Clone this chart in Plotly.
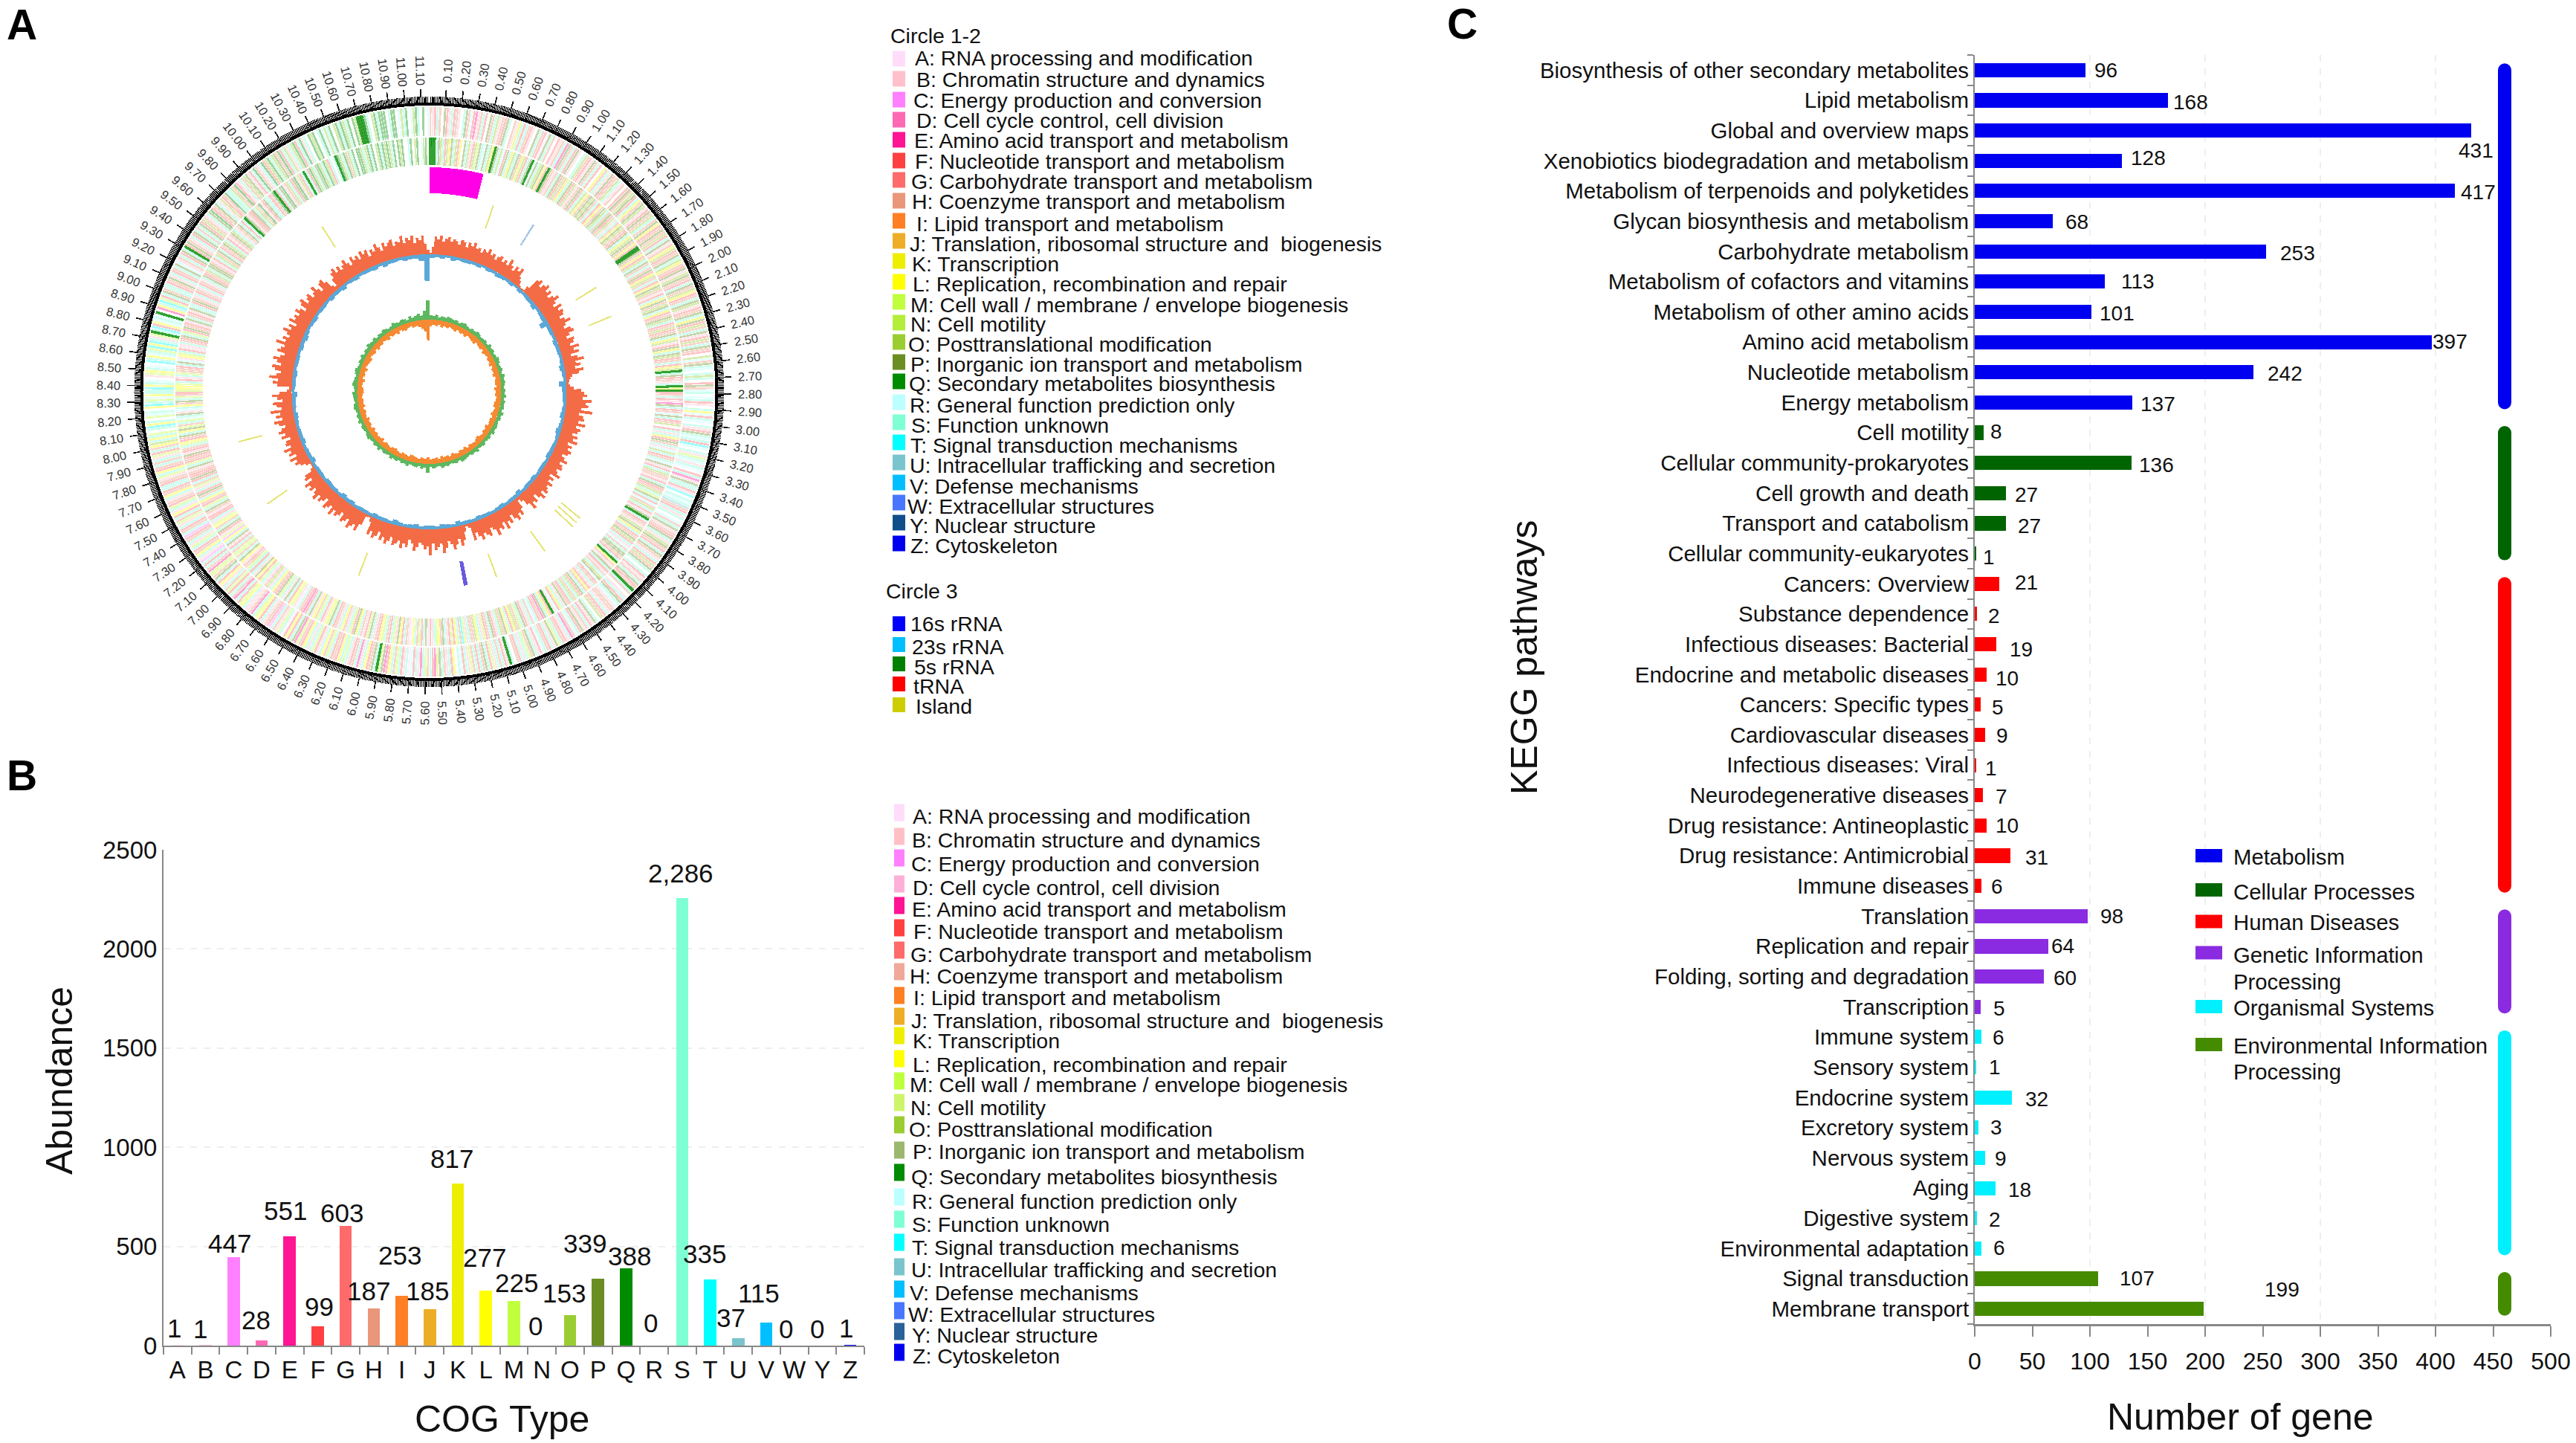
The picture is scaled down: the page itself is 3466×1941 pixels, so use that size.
import numpy as np
import plotly.graph_objects as go

W, H = 3466, 1941
FONT = "Liberation Sans"

# ---------- shared COG data ----------
COG_LETTERS = list("ABCDEFGHIJKLMNOPQRSTUVWYZ")
COG_NAMES = ["RNA processing and modification", "Chromatin structure and dynamics",
             "Energy production and conversion", "Cell cycle control, cell division",
             "Amino acid transport and metabolism", "Nucleotide transport and metabolism",
             "Carbohydrate transport and metabolism", "Coenzyme transport and metabolism",
             "Lipid transport and metabolism", "Translation, ribosomal structure and  biogenesis",
             "Transcription", "Replication, recombination and repair",
             "Cell wall / membrane / envelope biogenesis", "Cell motility",
             "Posttranslational modification", "Inorganic ion transport and metabolism",
             "Secondary metabolites biosynthesis", "General function prediction only",
             "Function unknown", "Signal transduction mechanisms",
             "Intracellular trafficking and secretion", "Defense mechanisms",
             "Extracellular structures", "Nuclear structure", "Cytoskeleton"]
COG_COLORS = ["#FFDDFA", "#FFC0CB", "#FF80FF", "#FF69B4", "#FF1493", "#FF4040", "#FF6A6A", "#E9967A",
              "#FF7F24", "#EEAD26", "#EEEE00", "#FFFF00", "#C0FF3E", "#B3EE3A", "#9ACD32", "#6B8E23",
              "#008B00", "#BBFFFF", "#7FFFD4", "#00FFFF", "#7AC5CD", "#00BFFF", "#4876FF", "#104E8B", "#0000EE"]
COG_COLORS_B = ["#FFDDFA", "#FFC0C5", "#FF80FF", "#FFB0D8", "#FF1493", "#FF4040", "#FF6A6A", "#F0A898",
                "#FF7F24", "#EEAD26", "#EEEE00", "#FFFF00", "#C0FF3E", "#CDF56A", "#9ACD32", "#9CB86E",
                "#008B00", "#BBFFFF", "#7FFFD4", "#00FFFF", "#7AC5CD", "#00BFFF", "#4876FF", "#2A6199", "#0000EE"]

# Panel B values
COG_HEIGHTS = [1, 1, 447, 28, 551, 99, 603, 187, 253, 185, 817, 277, 225, 0, 153, 339, 388, 0, 2255, 335, 37, 115, 0, 0, 1]
COG_TEXTS = ["1", "1", "447", "28", "551", "99", "603", "187", "253", "185", "817", "277", "225", "0", "153",
             "339", "388", "0", "2,286", "335", "37", "115", "0", "0", "1"]

# Panel C values
KEGG_GROUPS = ["Metabolism", "Cellular Processes", "Human Diseases", "Genetic Information<br>Processing",
               "Organismal Systems", "Environmental Information<br>Processing"]
KEGG_COLORS = ["#0000F0", "#006400", "#FF0000", "#8A2BE2", "#00F0FF", "#458B00"]
KEGG_NAMES = [
    ["Biosynthesis of other secondary metabolites", "Lipid metabolism", "Global and overview maps",
     "Xenobiotics biodegradation and metabolism", "Metabolism of terpenoids and polyketides",
     "Glycan biosynthesis and metabolism", "Carbohydrate metabolism", "Metabolism of cofactors and vitamins",
     "Metabolism of other amino acids", "Amino acid metabolism", "Nucleotide metabolism", "Energy metabolism"],
    ["Cell motility", "Cellular community-prokaryotes", "Cell growth and death", "Transport and catabolism",
     "Cellular community-eukaryotes"],
    ["Cancers: Overview", "Substance dependence", "Infectious diseases: Bacterial",
     "Endocrine and metabolic diseases", "Cancers: Specific types", "Cardiovascular diseases",
     "Infectious diseases: Viral", "Neurodegenerative diseases", "Drug resistance: Antineoplastic",
     "Drug resistance: Antimicrobial", "Immune diseases"],
    ["Translation", "Replication and repair", "Folding, sorting and degradation", "Transcription"],
    ["Immune system", "Sensory system", "Endocrine system", "Excretory system", "Nervous system", "Aging",
     "Digestive system", "Environmental adaptation"],
    ["Signal transduction", "Membrane transport"],
]
KEGG_VALUES = [
    [96, 168, 431, 128, 417, 68, 253, 113, 101, 397, 242, 137],
    [8, 136, 27, 27, 1],
    [21, 2, 19, 10, 5, 9, 1, 7, 10, 31, 6],
    [98, 64, 60, 5],
    [6, 1, 32, 3, 9, 18, 2, 6],
    [107, 199],
]

# Panel A: gene stripes, one letter per half degree; "." = no gene, "#" = saturated Q gene
STRIPES_OUTER = (
    "HBGSH.PGBS" "GHB.SPHRGE" "BHSG.PHSOB" "HGPS.HBKSG" "SHGB.PSHGA" "PSH.GBHSEP"
    "HSGPB.SOHG" "BPHSG.KHSB" "PGHOSBH.GP" "HOPGSKHPOB" "GPHOSHPKGH" "PHOGSPBHKO"
    "GHPSOKHGPB" "OPHGSPHOKG" "HSPOBGHPSK" "PGOHSPBGOH" "SPHG.ORHPS" "R.SOS.GPHR"
    "S.RSGB.SLR" "GSR.SBGPSR" "SGTR.SBMSR" "BSR.GSEBPS" "SGBT.SRSUH" "GSBS.RHSPB"
    "HGPSBOPHGS" "PHBSGOHPS." "SGBHSPGH#S" "H.BSGPSRBH" "HBSGHO.SPB" "GSHBPGSRHE"
    "SBGHSMPBSG" "HSRGBSPHMS" "BSGH.S#BGS" "HSBMGSPHSG" "SHMBSGRS.L" "GSBHSPMEGS"
    "HMSEBSGRAS" "BGSMHSLGEP" "M#SPHGLSBE" "SHGBSMSLGH" "GSMHLSBGMS" "BSLGHMEPSG"
    "LGASMBHSCG" "HBSGLMSEHB" "BSLMGSEHSG" "MHSBLGSPHM" "MEHSGSCBSL" "HGSMBSHGCS"
    "HGSBMHSGLB" "SMGHBSLHGS" "SGHBMSLGHS" "HSBMGSHLOS" "LSM.STLS.M" "RS.LTSMRLS"
    "STLSR.BMLS" "R.TSLRSMTL" "TSBM#STGLR" "SR#.ELSTMG" "SPHSSGHPBS" "GHSPRBHSGP"
    "S#GPHBSGPS" "HSPGOHBSPQ" "GHPSBOGHQS" "SOHQGBSHOP" "BGSQHBSQGO" "QSOPHQGSOB"
    "SOQGSQBS.Q" "OQ.SQROSQ." "OQSQOSQ.QO" "###QS.OQSQ" "QQ.SQQ.ROS" "Q.ROQS.Q.R")
STRIPES_INNER = (
    "###SPOSGOK" "PSOGK.PSOB" "GOMPSRPSOK" "#PSORGPSKO" "SPHKOGSP#R" "PSOPKG#PHB"
    "HSPGOHKSPG" "OBHPGSOKHP" "OPHSGKHPOS" "HPGOBSHKPO" "HGPSKOPHKG" "##PHKGOSPH"
    "SHPGKOHSGK" "POHBGSKPHO" "PSKGHPOSGH" "OGHPSKOBGP" "KSPOGHSGKO" "#SPGHBS#K#"
    "GHSGBEPSGH" "RPSGHO.GSB" "SKGPHSBROS" "GHSRPBGSOH" "HBGSPGHOSM" "PSGRHOSGBP"
    "#SGHBOPKSG" "HPOGSBRHSP" "PHGS#KHBPS" "GBHSOPRGHS" "BGKHSPGOSH" "OSGHPBSKGR"
    "B#GKSPEHGS" "RHSBGPSMHO" "KGSLPHOSBG" "PSHGMBSLOH" "HSBMTHSLGM" "GBSPHLMSBG"
    "BPSGMHSLAB" "HSGLPBMSGH" "SMLGHBSPMG" "BHSLPGMSBH" "LSBHGSPMLB" "GSMHLBPSGE"
    "GHSABMLGSP" "BSMPGHLSBO" "HBSMGLPBSG" "SMHGBLPSHM" "MHSGBPSLCM" "BGPSHLMBSG"
    "GBHPSMGHLS" "HPGSBMHSGP" "GGHBPSMGHG" "PBGHSMLGHP" "SLPMHSMRSP" "BRSLHPSMHG"
    "MLLMSGBSMH" "HGSPRBLMSG" "BBSHGPSMGP" "HGBPSHGBPS" "SGPHBSGHBS" "GHBSPGHOSP"
    "PHBGSOHPSG" "HPOSGBHPOS" "BHPSGS#PBH" "GPSOHQBGPS" "SGHQ#GSPQB" "HOSGPQBOGS"
    "#SGQOSPQOS" "QOGS.S#QOS" "QHOSQ.QQOS" "OQSQ.OQSQO" "QOSQ.QOQ.." "SQ.OQ.ROQ.")

# Circle 3 features, angle in degrees
ISLAND_ANGLES = [19, 58, 67.5, 130, 131.6, 133.2, 144, 160, 201, 235.3, 255.3, 327]
RRNA23_ANGLES = [32]
RRNA16_ANGLES = [169.3]

# Panel A histograms, one value per degree (GC) or per two degrees
GC_UP = [2,10,24,20,26,18,22,25,19,23, 21,17,24,22,16,23,19,25,18,20, 15,21,18,24,17,20,14,19,22,16,
         20,15,25,18,13,21,17,23,12,8, 3,1,2,9,24,28,20,26,30,22, 27,19,25,31,23,18,28,21,26,24,
         17,22,29,20,16,24,27,19,14,23, 21,15,26,18,24,12,20,28,16,22, 14,25,18,9,6,4,3,5,10,20,
         24,28,22,34,26,30,21,36,19,25, 27,20,30,18,25,22,16,24,19,26, 14,21,17,23,20,13,18,24,15,20,
         22,16,19,25,12,20,15,23,18,21, 24,17,26,20,13,22,19,27,16,8, 4,15,23,18,26,21,14,24,19,28,
         17,25,22,30,20,16,26,23,19,27, 21,15,24,6,3,9,20,27,17,24, 30,22,18,26,33,20,24,28,19,35,
         23,27,21,18,25,30,20,16,26,22, 29,19,24,27,17,23,28,20,25,15, 22,26,18,24,7,2,3,16,27,20,
         24,29,18,23,26,15,21,25,19,28, 17,22,26,14,20,24,18,27,21,16, 23,19,25,12,20,17,6,2,2,8,
         14,20,16,24,13,22,18,26,15,21, 19,12,23,17,25,20,14,22,28,16, 24,18,30,15,21,26,13,20,27,17,
         6,4,20,26,19,31,22,16,25,29, 18,24,30,21,16,27,23,19,32,20, 25,17,22,29,19,24,15,27,20,23,
         18,26,21,14,24,28,17,22,25,16, 20,27,19,13,23,25,18,8,5,15, 22,26,18,24,17,21,27,20,15,25,
         19,23,16,26,20,24,14,22,18,27, 21,15,25,19,23,26,17,22,20,28, 18,24,21,26,16,23,19,25,14,6]
GC_DOWN = [5,4,5,3,6,4,5,5,4,5, 3,5,4,6,5,4,5,3,5,4, 5,5,7,4,5,6,12,5,5,4, 6,5,5,4,5,7,5,4,10,6,
           5,5,4,5,6,4,5,7,5,4, 5,5,6,4,5,5,4,6,5,5, 4,7,5,5,4,6,5,4,5,5, 6,4,5,5,7,4,5,6,4,5,
           5,4,6,5,4,5,7,4,5,5, 6,4,5,5,4,6,5,7,4,5, 5,6,4,5,5,4,7,5,5,4, 6,5,5,4,5,6,4,5,5,7,
           4,5,5,6,4,5,5,4,6,5, 7,5,4,5,6,4,5,5,4,6, 5,5,7,4,5,6,4,5,5,6, 4,7,5,5,4,6,5,5,9,36]
AT_UP = [6,5,7,4,6,5,7,6,5,6, 4,6,7,5,4,6,5,7,6,4, 5,6,4,7,5,6,4,5,7,6, 4,5,6,4,7,5,6,5,4,6,
         5,7,4,6,5,6,4,7,5,6, 4,5,6,5,7,4,6,5,4,6, 5,4,7,5,6,4,5,6,7,4, 6,5,4,6,5,7,4,5,6,4,
         12,5,7,4,6,5,4,7,5,6, 4,6,5,7,4,5,6,4,7,5, 6,4,5,7,6,4,5,6,4,7, 5,6,4,5,7,6,4,5,6,7,
         4,5,7,6,5,4,6,7,5,4, 6,5,7,4,6,5,8,6,5,7, 4,6,5,7,6,4,5,8,6,5, 7,6,4,8,5,7,9,6,12,26]
AT_DOWN = [9,7,8,6,9,7,8,6,7,9, 6,8,7,9,6,7,8,9,6,7, 8,6,9,7,6,8,7,9,6,8, 7,9,6,7,8,6,9,7,8,6,
           7,8,9,6,7,9,6,8,7,6, 9,7,8,6,7,9,8,6,7,8, 6,9,7,8,6,7,9,6,8,7, 9,6,8,7,6,9,7,8,6,7,
           8,9,6,7,8,6,7,9,8,6, 7,8,6,9,7,6,8,7,9,6, 8,7,9,6,7,8,6,9,7,8, 6,7,9,8,6,7,9,6,8,7,
           9,6,7,8,9,6,7,8,6,9, 7,8,6,7,9,6,8,7,9,6, 8,9,7,6,8,7,9,12,16,28]

GENOME_MB = 11.15
TICK_MB = 0.01
LABEL_STEP_MB = 0.1

# ---------- pixel helpers ----------
def px(x): return x / W
def py(y): return 1 - y / H

annotations, shapes = [], []

def text(x, y, s, size=28.5, anchor="left", color="#111111", bold=False, angle=0):
    annotations.append(dict(xref="paper", yref="paper", x=px(x), y=py(y), text=f"<b>{s}</b>" if bold else s,
                            showarrow=False, xanchor=anchor, yanchor="middle", textangle=angle,
                            font=dict(family=FONT, size=size, color=color), borderpad=0))

def swatch(x0, x1, yc, h, color):
    shapes.append(dict(type="rect", xref="paper", yref="paper", x0=px(x0), x1=px(x1),
                       y0=py(yc - h / 2), y1=py(yc + h / 2), fillcolor=color, line_width=0))

fig = go.Figure()

# ---------- Panel A: circular genome map ----------
CX, CY, RMAX = 577.5, 527, 450
R_RING = 385

def hex_rgba(c, a):
    c = c.lstrip("#")
    return f"rgba({int(c[:2],16)},{int(c[2:4],16)},{int(c[4:],16)},{a})"

def polar_bars(theta, r, base, width, color):
    fig.add_trace(go.Barpolar(theta=theta, r=r, base=base, width=width, marker=dict(color=color, line_width=0),
                              subplot="polar", showlegend=False, hoverinfo="skip"))

cog_color = dict(zip(COG_LETTERS, COG_COLORS))
for stripes, r0, r1 in ((STRIPES_OUTER, 344, 383), (STRIPES_INNER, 305, 342)):
    step = 360 / len(stripes)
    th, col, wid = [], [], []
    for i, ch in enumerate(stripes):
        if ch == ".":
            continue
        th.append((i + 0.5) * step)
        if ch == "#":
            col.append("rgba(0,139,0,0.8)")
            wid.append(step * 1.1)
        else:
            col.append(hex_rgba(cog_color[ch], 0.38))
            wid.append(step * 0.85)
    polar_bars(th, [r1 - r0] * len(th), [r0] * len(th), wid, col)

polar_bars([7], [35], [267], [14], "#FF00E6")
polar_bars(ISLAND_ANGLES, [33] * len(ISLAND_ANGLES), [232] * len(ISLAND_ANGLES), [0.45] * len(ISLAND_ANGLES),
           "rgba(205,205,0,0.55)")
polar_bars(RRNA23_ANGLES, [33], [232], [0.5], "rgba(120,170,220,0.7)")
polar_bars(RRNA16_ANGLES, [33], [232], [1.2], "#6A5ADE")

def hist(values, r0, outward, color):
    step = 360 / len(values)
    th = [(i + 0.5) * step for i in range(len(values))]
    base = [r0] * len(values) if outward else [r0 - v for v in values]
    polar_bars(th, values, base, [step * 1.02] * len(values), color)

hist(GC_UP, 185, True, "#F46C45")
hist(GC_DOWN, 185, False, "#5BA8D8")
hist(AT_UP, 97, True, "#5DB860")
hist(AT_DOWN, 97, False, "#F58A32")

polar_bars([180], [4], [R_RING], [360], "#000000")
minor = np.arange(1, int(round(GENOME_MB / TICK_MB))) * TICK_MB * 360 / GENOME_MB
polar_bars(minor, [12] * len(minor), [R_RING] * len(minor), [0.2] * len(minor), "#000000")
majors = np.arange(1, int(GENOME_MB / LABEL_STEP_MB) + 1) * LABEL_STEP_MB
polar_bars(majors * 360 / GENOME_MB, [22] * len(majors), [R_RING] * len(majors), [0.24] * len(majors), "#111111")

for mb in majors:
    t = mb * 360 / GENOME_MB
    a = np.radians(t)
    ang = t - 90 if t < 180 else t - 270
    text(CX + 432 * np.sin(a), CY - 432 * np.cos(a), f"{mb:.2f}", size=16.5, anchor="center", color="#333333", angle=ang)

# Legends next to panel A
LEG_A_SWATCH = [79, 106, 134, 161, 188, 216, 242, 270, 297, 324, 351, 379, 406, 434, 460, 487, 513, 541, 568, 595,
                622, 649, 676, 703, 731]
LEG_A_TEXT = [78, 107, 135, 162, 189, 217, 244, 271, 301, 328, 355, 382, 410, 436, 463, 490, 516, 545, 572, 599,
              626, 654, 681, 707, 734]
LEG_A_LEFT = [157, 160, 153, 160, 155, 157, 147, 148, 160, 143, 148, 150, 145, 145, 140, 146, 141, 143, 147, 145,
              143, 143, 137, 143, 145]
text(1197, 48, "Circle 1-2")
for i, L in enumerate(COG_LETTERS):
    swatch(1201, 1218, LEG_A_SWATCH[i], 21, COG_COLORS[i])
    text(1150 + LEG_A_LEFT[i] / 1.96, LEG_A_TEXT[i], f"{L}: {COG_NAMES[i]}")
text(1191, 795, "Circle 3")
CIRCLE3 = ["16s rRNA", "23s rRNA", "5s rRNA", "tRNA", "Island"]
CIRCLE3_COLORS = ["#0000FF", "#00BFFF", "#008000", "#FF0000", "#CDCD00"]
for lab, c, ys, yt, l in zip(CIRCLE3, CIRCLE3_COLORS, [839, 867, 893, 920, 948], [839, 870, 897, 923, 950],
                             [145, 148, 155, 153, 158]):
    swatch(1201, 1218, ys, 20, c)
    text(1150 + l / 1.96, yt, lab)

# ---------- Panel B ----------
fig.add_trace(go.Bar(x=COG_LETTERS, y=COG_HEIGHTS, marker=dict(color=COG_COLORS, line_width=0), width=0.44,
                     xaxis="x", yaxis="y", showlegend=False))
COG_DX = [-4, -7, -5, -8, -6, 2, -5, -7, -3, -3, -8, -2, 3, -9, -8, -18, 5, -5, -2, -8, -10, -10, -11, -7, -6]
COG_LIFT = [23, 22, 18, 27, 34, 26, 18, 24, 54, 24, 34, 45, 24, 27, 30, 47, 17, 31, 34, 34, 28, 40, 23, 23, 23]
for L, v, s, dx, dy in zip(COG_LETTERS, COG_HEIGHTS, COG_TEXTS, COG_DX, COG_LIFT):
    annotations.append(dict(xref="x", yref="y", x=L, y=v, text=s, showarrow=False, xanchor="center", yanchor="middle",
                            xshift=dx, yshift=dy, font=dict(family=FONT, size=35, color="#111111")))
text(675, 1909, "COG Type", size=50, anchor="center")
text(80, 1454, "Abundance", size=50, anchor="center", angle=-90)

LEG_B_SWATCH = [1093, 1125, 1154, 1189, 1218, 1248, 1278, 1307, 1339, 1367, 1393, 1424, 1454, 1483, 1513, 1547, 1577,
                1610, 1640, 1671, 1704, 1734, 1763, 1791, 1819]
LEG_B_TEXT = [1098, 1130, 1162, 1194, 1223, 1253, 1284, 1313, 1342, 1373, 1400, 1432, 1459, 1490, 1519, 1549, 1583,
              1616, 1647, 1678, 1708, 1739, 1768, 1796, 1824]
LEG_B_LEFT = [150, 148, 147, 150, 148, 152, 145, 144, 152, 147, 150, 150, 144, 146, 142, 150, 147, 148, 149, 149, 147,
              144, 140, 149, 150]
for i, L in enumerate(COG_LETTERS):
    swatch(1203, 1217, LEG_B_SWATCH[i], 23, COG_COLORS_B[i])
    text(1150 + LEG_B_LEFT[i] / 1.96, LEG_B_TEXT[i], f"{L}: {COG_NAMES[i]}")

# ---------- Panel C ----------
all_names = [n for g in KEGG_NAMES for n in g]
for g, names, vals, c in zip(KEGG_GROUPS, KEGG_NAMES, KEGG_VALUES, KEGG_COLORS):
    fig.add_trace(go.Bar(x=vals, y=names, orientation="h", marker=dict(color=c, line_width=0), width=0.47,
                         xaxis="x2", yaxis="y2", showlegend=False))
    fig.add_trace(go.Scatter(x=[460, 460], y=[names[0], names[-1]], mode="lines+markers",
                             line=dict(color=c, width=18), marker=dict(color=c, size=18),
                             xaxis="x2", yaxis="y2", showlegend=False, cliponaxis=False, hoverinfo="skip"))

KEGG_DX = [10, 5, -19, 10, 6, 15, 17, 20, 9, -1, 17, 9, 7, 8, 10, 14, 7, 19, 13, 16, 10, 13, 13, 10, 15, 10, 18, 11,
           15, 2, 11, 15, 13, 15, 16, 14, 11, 15, 14, 14, 27, 80]
KEGG_DY = [0, 3, 27, -4, 2, 1, 2, 0, 2, -1, 2, 2, -2, 3, 2, 4, 5, -2, 3, 7, 5, 4, 1, 4, 2, 0, 2, 1, 0, 0, 2, 2, 1, 0,
           2, 0, 1, 2, 2, -1, -1, -26]
all_vals = [v for g in KEGG_VALUES for v in g]
for n, v, dx, dy in zip(all_names, all_vals, KEGG_DX, KEGG_DY):
    annotations.append(dict(xref="x2", yref="y2", x=v, y=n, text=str(v), showarrow=False, xanchor="left", yanchor="middle",
                            xshift=dx, yshift=-dy, font=dict(family=FONT, size=28, color="#111111")))

text(3014, 1906, "Number of gene", size=50, anchor="center")
text(2051, 884, "KEGG pathways", size=50, anchor="center", angle=-90)

LEG_C_SWATCH = [1151, 1197, 1239.5, 1281.5, 1354, 1405]
LEG_C_TEXT = [[1152], [1199], [1240], [1284, 1320], [1355], [1406, 1441]]
for g, c, ys, yt in zip(KEGG_GROUPS, KEGG_COLORS, LEG_C_SWATCH, LEG_C_TEXT):
    swatch(2954, 2990, ys, 18, c)
    for part, y in zip(g.split("<br>"), yt):
        text(3004, y, part, size=29.3)

text(29, 33, "A", size=57, anchor="center", bold=True, color="#000000")
text(29, 1043, "B", size=57, anchor="center", bold=True, color="#000000")
text(1967, 32, "C", size=57, anchor="center", bold=True, color="#000000")

# ---------- layout ----------
fig.update_layout(
    template="none",
    width=W, height=H, margin=dict(l=0, r=0, t=0, b=0, autoexpand=False), paper_bgcolor="white", plot_bgcolor="white",
    font=dict(family=FONT, color="#111111"), showlegend=False, bargap=0, annotations=annotations, shapes=shapes,
    polar=dict(domain=dict(x=[px(CX - RMAX), px(CX + RMAX)], y=[py(CY + RMAX), py(CY - RMAX)]),
               barmode="overlay", bargap=0, bgcolor="rgba(0,0,0,0)",
               angularaxis=dict(visible=False, rotation=90, direction="clockwise", thetaunit="degrees"),
               radialaxis=dict(visible=False, range=[0, RMAX])),
    xaxis=dict(domain=[px(220), px(1163)], type="category", categoryorder="array", categoryarray=COG_LETTERS,
               tickmode="array", tickvals=COG_LETTERS, ticktext=COG_LETTERS, tickangle=0, automargin=False,
               tickson="boundaries", ticks="outside", ticklen=10, tickwidth=2, tickcolor="#888888",
               showline=True, linecolor="#888888", linewidth=2, showgrid=False, ticklabelstandoff=2,
               tickfont=dict(family=FONT, size=33, color="#111111"), anchor="y"),
    yaxis=dict(domain=[py(1810), py(1143)], range=[0, 2500], tick0=0, dtick=500, ticks="", showline=True,
               linecolor="#888888", linewidth=2, showgrid=True, gridcolor="#EEEEEE", griddash="dash", gridwidth=1.5,
               zeroline=False, automargin=False, tickfont=dict(family=FONT, size=33, color="#111111"), anchor="x"),
    xaxis2=dict(domain=[px(2657), px(3432)], range=[0, 500], tickvals=list(range(0, 501, 50)), ticks="outside",
                ticklen=14, tickwidth=2, tickcolor="#888888", showline=True, linecolor="#888888", linewidth=3,
                showgrid=False, zeroline=False, anchor="y2", ticklabelstandoff=6, automargin=False,
                minor=dict(tickmode="array", tickvals=[100, 200, 300, 400, 500], showgrid=True, gridcolor="#EEEEEE",
                           griddash="dash", gridwidth=1.5, ticks=""),
                tickfont=dict(family=FONT, size=32, color="#111111")),
    yaxis2=dict(domain=[py(1781), py(74)], type="category", categoryorder="array", categoryarray=all_names,
                autorange=False, range=[len(all_names) - 0.5, -0.5], tickson="boundaries", ticks="outside", ticklen=8,
                tickwidth=2, tickcolor="#888888", showline=True, linecolor="#888888", linewidth=2, showgrid=False,
                tickmode="array", tickvals=all_names, ticktext=all_names, automargin=False,
                tickfont=dict(family=FONT, size=29.5, color="#111111"), anchor="x2"),
)

fig.write_html("out.html", config=dict(displayModeBar=False),
               post_script="document.body.style.margin='0';document.documentElement.style.overflow='hidden';")
